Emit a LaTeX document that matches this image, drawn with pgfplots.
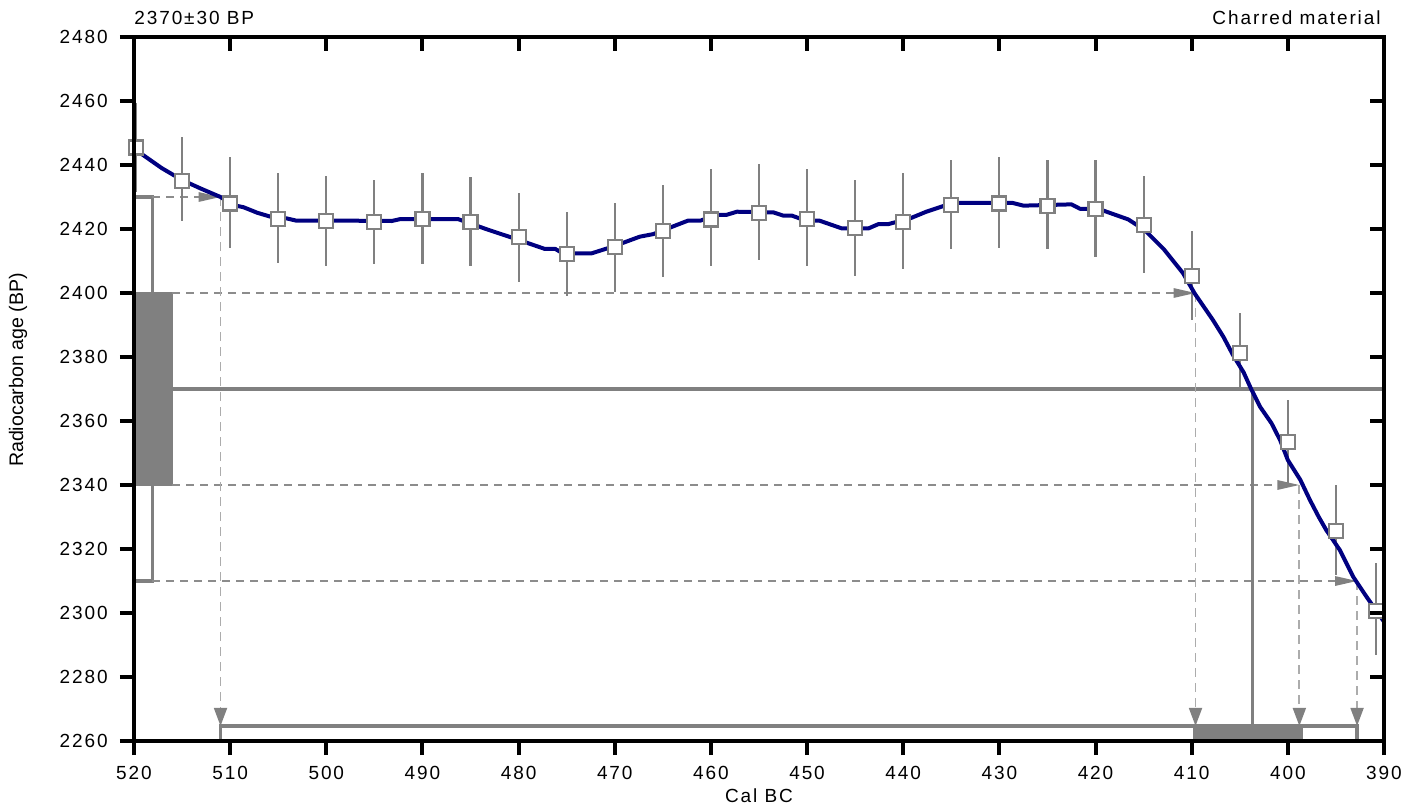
\documentclass[border=0pt]{standalone}
\usepackage{pgfplots}
\pgfplotsset{compat=1.18}
\usepackage{pgfplotstable}
\usepackage{fontspec}
\setmainfont{Liberation Sans}[LetterSpace=10]
\newfontfamily\plainfont{Liberation Sans}
\usetikzlibrary{arrows.meta}

\definecolor{cgray}{RGB}{128,128,128}
\definecolor{dashh}{RGB}{140,140,140}
\definecolor{dashv}{RGB}{172,172,172}
\definecolor{cnavy}{RGB}{0,0,128}

% calibration data points (year BC, BP, +err, -err)
\pgfplotstableread{
x     y      ep    em
519.8 2445.5 14.0  14.0
515   2435.1 13.6  12.6
510   2428.0 14.6  13.8
505   2423.1 14.5  13.7
500   2422.4 14.2  13.9
495   2422.3 13.0  13.2
490   2423.1 14.5  14.0
485   2422.3 14.0  13.8
480   2417.4 13.9  13.9
475   2412.2 13.2  13.0
470   2414.3 13.9  14.1
465   2419.4 14.3  14.3
460   2423.0 15.6  14.5
455   2425.1 15.1  14.8
450   2423.1 15.5  14.6
445   2420.2 15.1  14.9
440   2422.3 15.3  14.8
435   2427.5 14.1  13.9
430   2428.0 14.6  14.0
425   2427.2 14.4  13.6
420   2426.3 15.3  15.0
415   2421.3 15.3  14.9
410   2405.3 14.1  13.7
405   2381.3 12.5  10.9
400   2353.5 13.1  13.0
395   2325.6 14.4  13.7
390.8 2300.6 14.9  13.7
}\calpts

% calibration curve
\pgfplotstableread{
x      y
520    2446.0
519.9  2444.9
517.1  2439.0
515.0  2435.3
513.1  2432.7
511.0  2430.0
509.7  2427.5
508.6  2426.8
507.2  2425.1
505.2  2423.3
504.1  2423.3
503.1  2422.6
497.5  2422.6
493.2  2422.5
492.3  2423.1
486.3  2423.1
483.3  2419.9
480.2  2416.8
477.3  2413.8
476.2  2413.8
475.4  2412.4
472.4  2412.4
470.2  2414.5
467.4  2417.6
466.0  2418.4
462.4  2422.6
461.1  2422.6
459.4  2424.4
458.4  2424.4
457.3  2425.4
453.5  2425.2
452.5  2424.2
451.6  2424.2
450.1  2422.6
448.7  2422.6
446.4  2420.2
443.6  2420.2
442.6  2421.5
441.6  2421.5
439.3  2423.3
437.6  2425.4
434.8  2428.2
428.7  2428.2
427.5  2427.3
422.5  2427.7
421.6  2426.3
419.7  2426.3
416.6  2423.0
414.9  2419.7
412.9  2413.7
410.9  2406.2
409.7  2399.9
407.8  2391.6
406.7  2386.3
405.7  2380.6
404.6  2375.2
403.8  2369.9
402.9  2364.5
401.7  2359.3
400.8  2354.0
400.0  2347.8
398.7  2341.6
397.7  2335.3
396.8  2330.1
396.0  2325.9
394.6  2319.7
393.2  2311.3
391.8  2305.0
390.0  2297.3
}\calcurve

\pgfplotsset{calframe/.style={
  width=625pt, height=352pt, scale only axis,
  xmin=390, xmax=520, ymin=2260, ymax=2480, x dir=reverse,
  xtick={390,400,...,520}, ytick={2260,2280,...,2480},
  axis line style={line width=2pt},
  major tick style={line width=2pt, black},
  major tick length=7pt, minor tick num=0,
}}

\begin{document}
\fontsize{9.5}{11}\selectfont
\begin{tikzpicture}
\begin{axis}[calframe,
  xtick pos=left, ytick pos=left, tick align=outside,
  /pgf/number format/assume math mode=true,
  /pgf/number format/1000 sep={},
  tick label style={font=\fontsize{9.5}{11}\selectfont},
  xticklabel style={yshift=-2.1pt},
  yticklabel style={xshift=-2.8pt},
  xlabel={Cal BC},
  xlabel style={at={(axis description cs:0.5,0)}, anchor=north, yshift=-20.3pt},
  ylabel={Radiocarbon age (BP)},
  ylabel style={at={(axis description cs:-0.0928,0.527)}, anchor=center,
    font=\plainfont\fontsize{9.8}{12}\selectfont},
]
% measured age on the y axis
\addplot[draw=cgray, fill=white, line width=1.6pt]
  coordinates {(520,2310) (518.1,2310) (518.1,2430) (520,2430)} -- cycle;
\addplot[draw=cgray, fill=cgray, line width=0.6pt]
  coordinates {(520,2340) (516,2340) (516,2400) (520,2400)} -- cycle;
\addplot[cgray, line width=1.6pt] coordinates {(516,2370) (390,2370)};

% horizontal guides to the curve
\addplot[dashh, line width=0.9pt, dash pattern=on 4pt off 3pt,
  -{Triangle[length=11pt,width=4.7pt,color=cgray]}]
  coordinates {(518.1,2430) (511,2430)};
\addplot[dashh, line width=0.9pt, dash pattern=on 4pt off 3pt,
  -{Triangle[length=11pt,width=4.7pt,color=cgray]}]
  coordinates {(516,2400) (409.6,2400)};
\addplot[dashh, line width=0.9pt, dash pattern=on 4pt off 3pt,
  -{Triangle[length=11pt,width=4.7pt,color=cgray]}]
  coordinates {(516,2340) (398.8,2340)};
\addplot[dashh, line width=0.9pt, dash pattern=on 4pt off 3pt,
  -{Triangle[length=11pt,width=4.7pt,color=cgray]}]
  coordinates {(518.1,2310) (392.8,2310)};

% vertical guides down to the calendar axis
\addplot[dashv, line width=0.9pt, dash pattern=on 4.5pt off 3pt,
  -{Triangle[length=9pt,width=6.5pt,color=cgray]}]
  coordinates {(511,2430) (511,2264.7)};
\addplot[dashv, line width=0.9pt, dash pattern=on 4.5pt off 3pt,
  -{Triangle[length=9pt,width=6.5pt,color=cgray]}]
  coordinates {(409.6,2400) (409.6,2264.7)};
\addplot[dashv, line width=0.9pt, dash pattern=on 4.5pt off 3pt,
  -{Triangle[length=9pt,width=6.5pt,color=cgray]}]
  coordinates {(398.8,2340) (398.8,2264.7)};
\addplot[dashv, line width=0.9pt, dash pattern=on 4.5pt off 3pt,
  -{Triangle[length=9pt,width=6.5pt,color=cgray]}]
  coordinates {(392.8,2310) (392.8,2264.7)};

% calibrated ranges on the x axis
\addplot[cgray, line width=1.6pt]
  coordinates {(511,2260) (511,2264.7) (392.8,2264.7) (392.8,2260)};
\addplot[draw=cgray, fill=cgray, line width=0.6pt]
  coordinates {(409.8,2260) (409.8,2265.2) (398.5,2265.2) (398.5,2260)} -- cycle;
\addplot[cgray, line width=1.6pt] coordinates {(403.7,2370) (403.7,2260)};

% curve data with errors
\addplot[only marks, mark=none,
  error bars/.cd, y dir=both, y explicit, error mark=none,
  error bar style={cgray, line width=1.1pt}]
  table[x=x, y=y, y error plus=ep, y error minus=em] {\calpts};
\addplot[only marks, mark=square*, mark size=3.5pt,
  mark options={draw=cgray, fill=white, line width=1.1pt}]
  table[x=x, y=y] {\calpts};
\addplot[cnavy, line width=2pt, line join=round] table[x=x, y=y] {\calcurve};
\end{axis}

\begin{axis}[calframe,
  xtick pos=right, ytick pos=right, tick align=inside,
  xticklabels={}, yticklabels={}, clip=false]
\node[anchor=base west, inner sep=0pt, yshift=6.25pt] at (rel axis cs:0,1) {2370±30 BP};
\node[anchor=base east, inner sep=0pt, yshift=6.25pt, xshift=-1.5pt] at (rel axis cs:1,1) {Charred material};
\coordinate (sw) at (rel axis cs:0,0);
\end{axis}
\pgfresetboundingbox
\path (sw) ++(-67pt,-32pt) rectangle ++(709.5pt,402.5pt);
\end{tikzpicture}
\end{document}
